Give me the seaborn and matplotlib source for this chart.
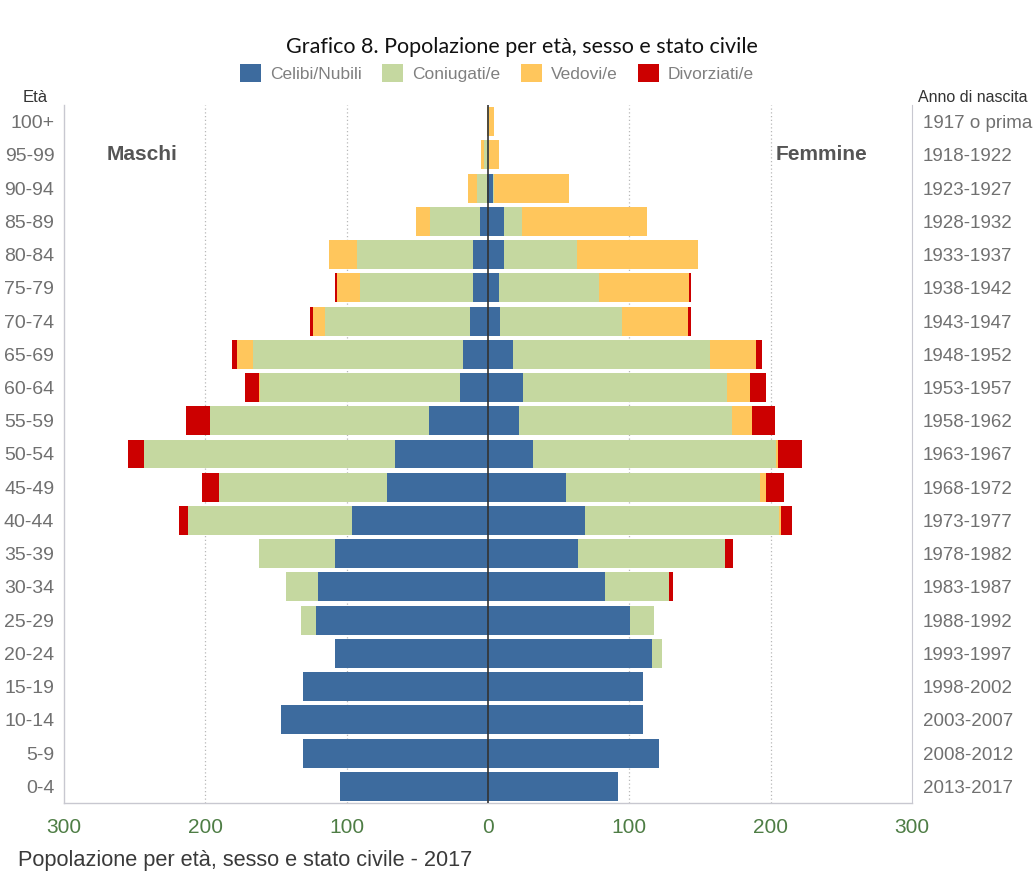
import numpy as np
import pandas as pd
import seaborn as sns
import matplotlib
matplotlib.use("Agg")
import matplotlib.pyplot as plt
from matplotlib.patches import Patch

# ---------------- data ----------------
eta = ["100+", "95-99", "90-94", "85-89", "80-84", "75-79", "70-74", "65-69",
       "60-64", "55-59", "50-54", "45-49", "40-44", "35-39", "30-34", "25-29",
       "20-24", "15-19", "10-14", "5-9", "0-4"]
anni = ["1917 o prima", "1918-1922", "1923-1927", "1928-1932", "1933-1937",
        "1938-1942", "1943-1947", "1948-1952", "1953-1957", "1958-1962",
        "1963-1967", "1968-1972", "1973-1977", "1978-1982", "1983-1987",
        "1988-1992", "1993-1997", "1998-2002", "2003-2007", "2008-2012",
        "2013-2017"]

m_celibi = [0, 0, 1, 6, 10.6, 10.6, 13, 17.7, 19.6, 41.8, 65.6, 71.5, 96,
            108.5, 120.3, 121.5, 108.5, 130.9, 146.7, 130.9, 105]
m_coniugati = [0, 2.5, 7, 34.7, 81.9, 80.2, 102.6, 148.6, 142, 154.8, 177.9,
               119.1, 116.3, 53.8, 22.4, 11.1, 0, 0, 0, 0, 0]
m_vedovi = [0.5, 2.5, 6, 10.1, 20, 16, 8.3, 11.3, 0.5, 0, 0, 0, 0, 0, 0, 0,
            0, 0, 0, 0, 0]
m_divorziati = [0, 0, 0, 0, 0, 1.7, 2, 3.5, 9.9, 17, 10.9, 11.8, 6.6, 0, 0,
                0, 0, 0, 0, 0, 0]

f_nubili = [0, 0, 3.5, 11, 11, 8, 8.8, 17.6, 24.9, 21.9, 31.9, 55, 68.9,
            63.8, 82.7, 100.5, 116.1, 109.8, 109.8, 121.1, 91.7]
f_coniugate = [1, 1, 0.5, 13.3, 52.3, 70.4, 86, 139.5, 144.5, 150.8, 172.2,
               137.7, 137.2, 103.8, 45.5, 17.3, 6.8, 0, 0, 0, 0]
f_vedove = [3, 7, 53, 88.5, 85.4, 64.1, 47, 32.7, 15.8, 14.3, 1, 3.8, 1, 0,
            0, 0, 0, 0, 0, 0, 0]
f_divorziate = [0, 0, 0, 0, 0, 1, 1.5, 3.8, 11.3, 15.8, 17.1, 12.6, 8, 5.8,
                2.5, 0, 0, 0, 0, 0, 0]

stati = ["Celibi/Nubili", "Coniugati/e", "Vedovi/e", "Divorziati/e"]
colori = ["#3D6B9E", "#C5D8A0", "#FFC65C", "#CC0000"]

xticks = [-300, -200, -100, 0, 100, 200, 300]

# ---------------- figure ----------------
sns.set_style("white")
plt.rcParams["font.family"] = ["Liberation Sans", "DejaVu Sans"]

fig = plt.figure(figsize=(10.34, 8.72), dpi=100)
ax = fig.add_axes([64 / 1034, 1 - 803 / 872, 848 / 1034, 698 / 872])

maschi = [m_celibi, m_coniugati, m_vedovi, m_divorziati]
femmine = [f_nubili, f_coniugate, f_vedove, f_divorziate]

for serie, segno in [(maschi, -1), (femmine, 1)]:
    cum = np.cumsum(np.array(serie, dtype=float), axis=0)
    # draw outermost first so inner layers overlay
    for k in range(3, -1, -1):
        df = pd.DataFrame({"eta": eta, "val": segno * cum[k]})
        sns.barplot(data=df, x="val", y="eta", order=eta, orient="h",
                    color=colori[k], saturation=1, width=0.87,
                    linewidth=0, ax=ax, zorder=2)

ax.set_xlim(-300, 300)
ax.set_ylim(20.5, -0.5)
ax.set_xlabel("")
ax.set_ylabel("")
ax.set_xticks(xticks)
ax.set_xticklabels([str(abs(v)) for v in xticks], color="#4E7D45",
                   fontsize=15)
ax.tick_params(axis="x", length=5, color="#C8C8D0", pad=6)
ax.tick_params(axis="y", length=0, pad=7, labelsize=14, labelcolor="#707070")

for v in [-200, -100, 100, 200]:
    ax.axvline(v, color="#B8B8B8", lw=0.9, ls=(0, (1, 2)), zorder=1)
ax.axvline(0, color="#333333", lw=1.2, zorder=5)

for s in ["top", "right"]:
    ax.spines[s].set_visible(False)
for s in ["left", "bottom"]:
    ax.spines[s].set_color("#C8C8D0")
    ax.spines[s].set_linewidth(1)

ax2 = ax.twinx()
ax2.set_ylim(ax.get_ylim())
ax2.set_yticks(range(len(anni)))
ax2.set_yticklabels(anni)
ax2.tick_params(axis="y", length=0, pad=8, labelsize=13.5,
                labelcolor="#707070")
for s in ["top", "left", "bottom"]:
    ax2.spines[s].set_visible(False)
ax2.spines["right"].set_color("#C8C8D0")

ax.text(-245, 1, "Maschi", fontsize=15, fontweight="bold", color="#555555",
        ha="center", va="center")
ax.text(236, 1, "Femmine", fontsize=15, fontweight="bold", color="#555555",
        ha="center", va="center")

fig.text(35 / 1034, 1 - 97 / 872, "Età", fontsize=12, color="#333333",
         ha="center", va="center")
fig.text(918 / 1034, 1 - 97 / 872, "Anno di nascita", fontsize=11.5,
         color="#333333", ha="left", va="center")

fig.text(522 / 1034, 1 - 47 / 872,
         "Grafico 8. Popolazione per età, sesso e stato civile",
         fontsize=15.5, family=["Lato", "DejaVu Sans"], color="#111111",
         ha="center", va="center")

handles = [Patch(facecolor=c, edgecolor="none", label=l)
           for c, l in zip(colori, stati)]
leg = fig.legend(handles=handles, loc="center",
                 bbox_to_anchor=(497 / 1034, 1 - 73 / 872), ncol=4,
                 frameon=False, fontsize=12.5, handlelength=1.2,
                 handleheight=1.3, handletextpad=0.5, columnspacing=1.2)
for t in leg.get_texts():
    t.set_color("#808080")

fig.text(18 / 1034, 1 - 860 / 872,
         "Popolazione per età, sesso e stato civile - 2017", fontsize=15.7,
         color="#3A3A3A", ha="left", va="center")

fig.savefig("out.png", dpi=100)
